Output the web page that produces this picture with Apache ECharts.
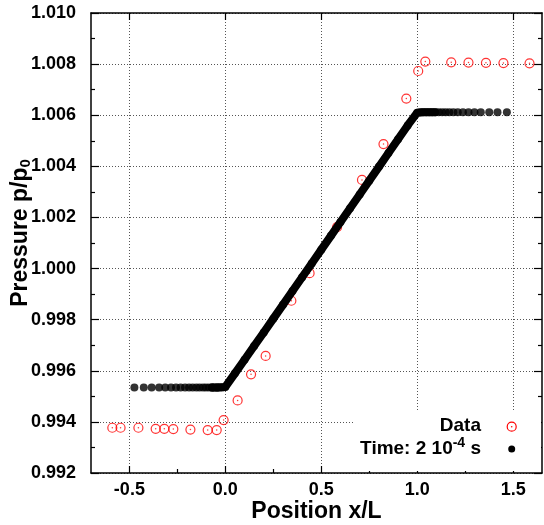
<!DOCTYPE html>
<html>
<head>
<meta charset="utf-8">
<script src="https://cdn.jsdelivr.net/npm/echarts@6/dist/echarts.min.js"></script>
<style>
  html, body { margin: 0; padding: 0; background: #fff; }
  #chart { width: 544px; height: 525px; }
</style>
</head>
<body>
<div id="chart"></div>
<script>
// Measured pressure (red open circles)
const dataX = [-0.589, -0.546, -0.453, -0.363, -0.318, -0.271, -0.182, -0.092, -0.045, -0.009,
               0.064, 0.134, 0.210, 0.344, 0.439, 0.582, 0.712, 0.824, 0.943, 1.005,
               1.042, 1.177, 1.267, 1.358, 1.449, 1.585];
const dataY = [0.99377, 0.99377, 0.99377, 0.99373, 0.99373, 0.99372, 0.99370, 0.99368, 0.99368, 0.99407,
               0.99484, 0.99586, 0.99658, 0.99874, 0.99982, 1.00162, 1.00347, 1.00487, 1.00665, 1.00773,
               1.00810, 1.00807, 1.00806, 1.00805, 1.00804, 1.00803];

// Simulation at t = 2e-4 s (black dots): left state, wave, right state
const leftX = [-0.474, -0.425, -0.384, -0.345, -0.313, -0.283, -0.257, -0.233, -0.210, -0.189,
               -0.170, -0.151, -0.134, -0.116, -0.101, -0.085, -0.069, -0.056, -0.042, -0.028, -0.014];
const leftY = [0.99535, 0.99535, 0.99535, 0.99535, 0.99535, 0.99535, 0.99535, 0.99535, 0.99535, 0.99535,
               0.99535, 0.99535, 0.99535, 0.99535, 0.99535, 0.99535, 0.99535, 0.99535, 0.99535, 0.99535, 0.99535];
const rampX = [-0.069, -0.042, 0.000, 0.050, 0.100, 0.150, 0.200, 0.250, 0.300, 0.350, 0.400,
               0.450, 0.500, 0.550, 0.600, 0.650, 0.700, 0.750, 0.800, 0.850, 0.900,
               0.950, 1.000, 1.031, 1.063, 1.094];
const rampY = [0.99535, 0.99535, 0.99537, 0.99590, 0.99643, 0.99697, 0.99750, 0.99804, 0.99858, 0.99912, 0.99966,
               1.00020, 1.00074, 1.00128, 1.00182, 1.00236, 1.00290, 1.00344, 1.00398, 1.00452, 1.00506,
               1.00560, 1.00610, 1.00612, 1.00612, 1.00612];
const rightX = [1.016, 1.047, 1.078, 1.112, 1.130, 1.148, 1.167, 1.188, 1.211, 1.238,
                1.267, 1.298, 1.331, 1.375, 1.418, 1.467];
const rightY = [1.00612, 1.00612, 1.00612, 1.00612, 1.00612, 1.00612, 1.00612, 1.00612, 1.00612, 1.00612,
                1.00612, 1.00612, 1.00612, 1.00612, 1.00612, 1.00612];

// Axis ticks
const xMajor = [-0.5, 0.0, 0.5, 1.0, 1.5];
const xMinor = [-0.25, 0.25, 0.75, 1.25];

const pairs = (xs, ys) => xs.map((x, i) => [x, ys[i]]);
const dataPts = pairs(dataX, dataY);
const simPts = pairs(leftX, leftY).concat(pairs(rampX, rampY), pairs(rightX, rightY));

const FONT = '"Liberation Sans", Arial, sans-serif';
const grid = { left: 91, right: 2, top: 13, bottom: 52, containLabel: false, outerBoundsMode: 'none' };
const dotted = { show: true, lineStyle: { color: '#555', width: 1, type: [1, 2] } };
const axisLine = { show: true, onZero: false, lineStyle: { color: '#000', width: 1.5 } };

const chart = echarts.init(document.getElementById('chart'), null, { renderer: 'canvas' });
chart.setOption({
  animation: false,
  backgroundColor: '#fff',
  grid: grid,
  xAxis: [
    {
      type: 'value', position: 'bottom', min: -0.7, max: 1.65,
      axisLine: axisLine,
      axisTick: { show: true, inside: true, length: 7, customValues: xMajor, lineStyle: { color: '#000', width: 1.2 } },
      axisLabel: { customValues: xMajor, margin: 8, color: '#000', fontFamily: FONT, fontWeight: 'bold', fontSize: 18,
                   formatter: v => v.toFixed(1) },
      splitLine: dotted,
      name: 'Position x/L', nameLocation: 'middle', nameGap: 27, nameMoveOverlap: false,
      nameTextStyle: { color: '#000', fontFamily: FONT, fontWeight: 'bold', fontSize: 23 }
    },
    {
      type: 'value', position: 'bottom', min: -0.7, max: 1.65,
      axisLine: { show: false, onZero: false },
      axisTick: { show: true, inside: true, length: 4, customValues: xMinor, lineStyle: { color: '#000', width: 1.2 } },
      axisLabel: { show: false }, splitLine: { show: false }
    },
    {
      type: 'value', position: 'top', min: -0.7, max: 1.65,
      axisLine: axisLine,
      axisTick: { show: true, inside: true, length: 7, customValues: xMajor, lineStyle: { color: '#000', width: 1.2 } },
      axisLabel: { show: false }, splitLine: { show: false }
    }
  ],
  yAxis: [
    {
      type: 'value', position: 'left', min: 0.992, max: 1.010, interval: 0.002,
      axisLine: axisLine,
      axisTick: { show: true, inside: true, length: 8, lineStyle: { color: '#000', width: 1.2 } },
      minorTick: { show: true, splitNumber: 2, length: 4, lineStyle: { color: '#000', width: 1.2 } },
      axisLabel: { margin: 15, color: '#000', fontFamily: FONT, fontWeight: 'bold', fontSize: 18,
                   formatter: v => v.toFixed(3) },
      splitLine: dotted,
      name: 'Pressure p/p{sub|0}', nameLocation: 'middle', nameGap: 58, nameRotate: 90, nameMoveOverlap: false,
      nameTextStyle: { color: '#000', fontFamily: FONT, fontWeight: 'bold', fontSize: 23, padding: [0, 0, 0, 20],
                       rich: { sub: { fontFamily: FONT, fontWeight: 'bold', fontSize: 15, verticalAlign: 'bottom', padding: [9, 0, 0, 0] } } }
    },
    {
      type: 'value', position: 'right', min: 0.992, max: 1.010, interval: 0.002,
      axisLine: axisLine,
      axisTick: { show: true, inside: true, length: 8, lineStyle: { color: '#000', width: 1.2 } },
      minorTick: { show: true, splitNumber: 2, length: 4, lineStyle: { color: '#000', width: 1.2 } },
      axisLabel: { show: false }, splitLine: { show: false }
    }
  ],
  series: [
    {
      name: 'Data', type: 'scatter', data: dataPts, symbol: 'circle', symbolSize: 9, z: 3,
      itemStyle: { color: 'rgba(0,0,0,0)', borderColor: '#ff0000', borderWidth: 1.2 }
    },
    {
      type: 'scatter', data: dataPts, symbol: 'circle', symbolSize: 1.5, z: 3,
      itemStyle: { color: '#ff0000' }, silent: true
    },
    {
      type: 'line', data: pairs(rampX, rampY), showSymbol: false, z: 4,
      lineStyle: { color: '#000', width: 8, join: 'round', cap: 'round' }
    },
    {
      name: 'Time', type: 'scatter', data: simPts, symbol: 'circle', symbolSize: 8, z: 4,
      itemStyle: { color: '#000' }
    }
  ],
  graphic: [
    { type: 'rect', shape: { x: 355, y: 410, width: 186, height: 61 }, style: { fill: '#fff' }, z: 10 },
    { type: 'text', x: 481, y: 426, z: 11,
      style: { text: 'Data', fill: '#000', font: 'bold 19px ' + FONT, align: 'right', verticalAlign: 'middle' } },
    { type: 'circle', shape: { cx: 511.7, cy: 426.7, r: 4.5 }, style: { fill: 'none', stroke: '#ff0000', lineWidth: 1.2 }, z: 11 },
    { type: 'circle', shape: { cx: 511.7, cy: 426.7, r: 0.8 }, style: { fill: '#ff0000' }, z: 11 },
    { type: 'text', x: 481, y: 449, z: 11,
      style: { text: 'Time: 2 10{sup|-4} s', fill: '#000', font: 'bold 19px ' + FONT, align: 'right', verticalAlign: 'middle',
               rich: { sup: { font: 'bold 14px ' + FONT, fill: '#000', padding: [0, 0, 11, 0] } } } },
    { type: 'circle', shape: { cx: 511.7, cy: 449, r: 3.5 }, style: { fill: '#000' }, z: 11 }
  ]
});
</script>
</body>
</html>
